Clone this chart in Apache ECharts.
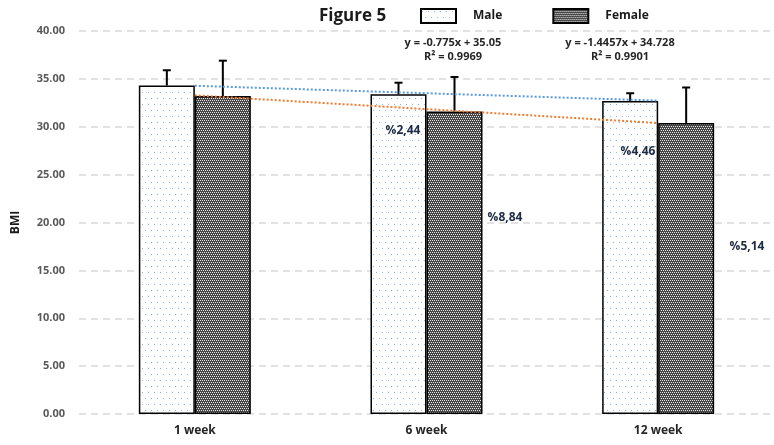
<!DOCTYPE html>
<html>
<head>
<meta charset="utf-8">
<script src="https://cdn.jsdelivr.net/npm/echarts@6/dist/echarts.min.js"></script>
<style>
  html, body { margin: 0; padding: 0; background: #fff; }
  #chart { width: 774px; height: 445px; }
</style>
</head>
<body>
<div id="chart"></div>
<script>
  // data
  var categories = ["1 week", "6 week", "12 week"];
  var maleBMI = [34.3, 33.4, 32.7];
  var femaleBMI = [33.2, 31.6, 30.4];
  var maleErr = [1.6, 1.2, 0.8];
  var femaleErr = [3.7, 3.6, 3.7];
  // linear trendlines as shown on the figure
  var maleTrend = [34.28, 33.50, 32.73];
  var femaleTrend = [33.28, 31.84, 30.39];
  var yTicks = [0, 5, 10, 15, 20, 25, 30, 35, 40];
  var trendText = [
    ["y = -0.775x + 35.05", "R\u00b2 = 0.9969"],
    ["y = -1.4457x + 34.728", "R\u00b2 = 0.9901"]
  ];
  var pctText = ["%2,44", "%8,84", "%4,46", "%5,14"];

  var FONT = "'Open Sans', sans-serif";

  // fill patterns (dotted for male, checkered for female)
  function makeDots() {
    var c = document.createElement("canvas");
    c.width = 6; c.height = 12;
    var g = c.getContext("2d");
    g.fillStyle = "#ffffff";
    g.fillRect(0, 0, 6, 12);
    g.fillStyle = "#8fb8e3";
    g.fillRect(1, 2, 1, 1);
    g.fillRect(4, 8, 1, 1);
    return c;
  }
  function makeCheck() {
    var c = document.createElement("canvas");
    c.width = 4; c.height = 4;
    var g = c.getContext("2d");
    g.fillStyle = "#474747";
    g.fillRect(0, 0, 4, 4);
    g.fillStyle = "#e6e6e6";
    g.fillRect(0, 0, 1, 1);
    g.fillRect(2, 0, 1, 1);
    g.fillRect(1, 2, 1, 1);
    g.fillRect(3, 2, 1, 1);
    return c;
  }
  var malePattern = { image: makeDots(), repeat: "repeat" };
  var femalePattern = { image: makeCheck(), repeat: "repeat" };

  var BAR_W = 56;

  function errSeries(name, means, errs, shift) {
    return {
      name: name,
      type: "custom",
      z: 5,
      data: means.map(function (m, i) { return [i, m, m + errs[i]]; }),
      renderItem: function (params, api) {
        var p0 = api.coord([api.value(0), api.value(1)]);
        var p1 = api.coord([api.value(0), api.value(2)]);
        var x = p0[0] + shift;
        var style = { stroke: "#000", lineWidth: 2 };
        return {
          type: "group",
          children: [
            { type: "line", shape: { x1: x, y1: p0[1], x2: x, y2: p1[1] }, style: style },
            { type: "line", shape: { x1: x - 4, y1: p1[1], x2: x + 4, y2: p1[1] }, style: style }
          ]
        };
      }
    };
  }

  var chart = echarts.init(document.getElementById("chart"));

  var txtStyle = { font: "bold 11px " + FONT, fill: "#262626", textAlign: "center", textVerticalAlign: "middle" };
  var pctStyle = { font: "bold 12px " + FONT, fill: "#1c2a44", textAlign: "center", textVerticalAlign: "middle" };

  var option = {
    animation: false,
    title: {
      text: "Figure 5",
      left: 314,
      top: 3,
      textStyle: { fontFamily: FONT, fontWeight: "bold", fontSize: 17, color: "#1a1a1a" }
    },
    legend: {
      data: ["Male", "Female"],
      icon: "rect",
      left: 415,
      top: 3,
      itemWidth: 35,
      itemHeight: 14,
      itemGap: 50,
      textStyle: {
        fontFamily: FONT,
        fontWeight: "bold",
        fontSize: 12,
        color: "#1a1a1a",
        padding: [0, 0, 0, 12]
      }
    },
    grid: {
      left: 79,
      top: 31,
      bottom: 31,
      width: 701
    },
    xAxis: {
      type: "category",
      data: categories,
      axisLine: { show: false },
      axisTick: { show: false },
      axisLabel: {
        margin: 11,
        fontFamily: FONT,
        fontWeight: "bold",
        fontSize: 12,
        color: "#262626"
      }
    },
    yAxis: {
      type: "value",
      min: yTicks[0],
      max: yTicks[yTicks.length - 1],
      interval: 5,
      name: "BMI",
      nameLocation: "middle",
      nameRotate: 90,
      nameGap: 57,
      nameTextStyle: { fontFamily: FONT, fontWeight: "bold", fontSize: 12, color: "#1a1a1a" },
      axisLine: { show: false },
      axisTick: { show: false },
      axisLabel: {
        margin: 14,
        fontFamily: FONT,
        fontWeight: "bold",
        fontSize: 11,
        color: "#595959",
        formatter: function (v) { return v.toFixed(2); }
      },
      splitLine: {
        show: true,
        lineStyle: { color: "#d9d9d9", width: 1.5, type: [7, 5] }
      }
    },
    series: [
      {
        name: "Male",
        type: "bar",
        barWidth: BAR_W,
        barGap: "0%",
        data: maleBMI,
        itemStyle: { color: malePattern, borderColor: "#000", borderWidth: 1.5 }
      },
      {
        name: "Female",
        type: "bar",
        barWidth: BAR_W,
        barGap: "0%",
        data: femaleBMI,
        itemStyle: { color: femalePattern, borderColor: "#000", borderWidth: 1.5 }
      },
      errSeries("MaleErr", maleBMI, maleErr, -BAR_W / 2),
      errSeries("FemaleErr", femaleBMI, femaleErr, BAR_W / 2),
      {
        name: "Male trend",
        type: "line",
        z: 6,
        symbol: "none",
        data: maleTrend,
        lineStyle: { color: "#5b9bd5", width: 2, type: [2, 2] }
      },
      {
        name: "Female trend",
        type: "line",
        z: 6,
        symbol: "none",
        data: femaleTrend,
        lineStyle: { color: "#ed7d31", width: 2, type: [2, 2] }
      }
    ],
    graphic: [
      { type: "text", x: 453, y: 43, z: 10, style: Object.assign({ text: trendText[0][0] }, txtStyle) },
      { type: "text", x: 453, y: 57, z: 10, style: Object.assign({ text: trendText[0][1] }, txtStyle) },
      { type: "text", x: 620, y: 43, z: 10, style: Object.assign({ text: trendText[1][0] }, txtStyle) },
      { type: "text", x: 620, y: 57, z: 10, style: Object.assign({ text: trendText[1][1] }, txtStyle) },
      { type: "text", x: 403, y: 131, z: 10, style: Object.assign({ text: pctText[0] }, pctStyle) },
      { type: "text", x: 505, y: 218, z: 10, style: Object.assign({ text: pctText[1] }, pctStyle) },
      { type: "text", x: 638, y: 152, z: 10, style: Object.assign({ text: pctText[2] }, pctStyle) },
      { type: "text", x: 747, y: 247, z: 10, style: Object.assign({ text: pctText[3] }, pctStyle) }
    ]
  };

  chart.setOption(option);
</script>
</body>
</html>
